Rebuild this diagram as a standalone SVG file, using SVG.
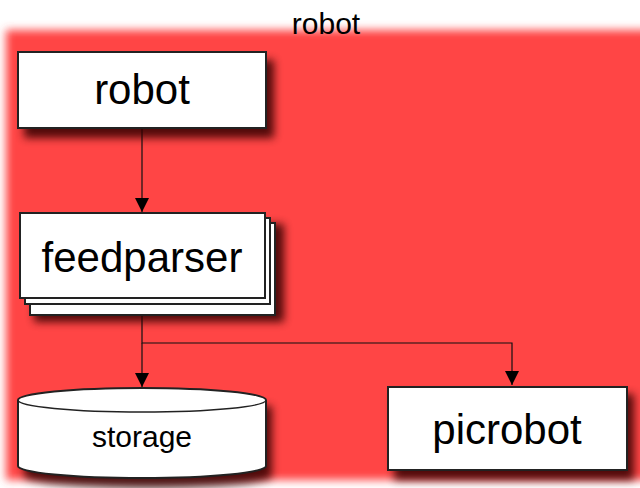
<svg xmlns="http://www.w3.org/2000/svg" width="640" height="488" viewBox="0 0 640 488">
<defs>
<filter id="bg" x="-5%" y="-5%" width="110%" height="110%"><feGaussianBlur stdDeviation="4"/></filter>
<filter id="sh" x="-20%" y="-20%" width="140%" height="160%"><feGaussianBlur stdDeviation="4"/></filter>
<marker id="ah" viewBox="0 0 10 10" refX="10" refY="5" markerWidth="14" markerHeight="14" markerUnits="userSpaceOnUse" orient="auto"><path d="M0,0 L10,5 L0,10 z" fill="#000"/></marker>
<style>
.box{fill:#fff;stroke:#222;stroke-width:2}
.shadow{fill:#300;opacity:0.85;filter:url(#sh)}
.big{font-family:"Liberation Sans",Arial,sans-serif;font-size:42px;fill:#000;text-anchor:middle}
.mid{font-family:"Liberation Sans",Arial,sans-serif;font-size:30px;fill:#000;text-anchor:middle}
.conn{fill:none;stroke:#111;stroke-width:1.2}
</style>
</defs>
<rect width="640" height="488" fill="#fff"/>
<rect x="6" y="30" width="650" height="450" fill="#ff4444" filter="url(#bg)"/>
<text x="326" y="34" class="mid" font-size="29">robot</text>
<g id="connectors">
<line class="conn" x1="142" y1="129" x2="142" y2="212" marker-end="url(#ah)"/>
<polyline class="conn" points="142,309 142,343 512,343 512,385" marker-end="url(#ah)"/>
<line class="conn" x1="142" y1="343" x2="142" y2="387" marker-end="url(#ah)"/>
</g>
<g id="node-robot">
<rect class="shadow" x="24" y="60" width="250" height="78"/>
<rect class="box" x="18" y="52" width="248" height="76"/>
<text class="big" x="142" y="104">robot</text>
</g>
<g id="node-feedparser">
<rect class="shadow" x="34" y="224" width="250" height="98"/>
<rect class="box" x="30" y="223" width="245" height="92"/>
<rect class="box" x="25" y="218" width="245" height="86"/>
<rect class="box" x="20" y="213" width="245" height="85"/>
<text class="big" x="142" y="272">feedparser</text>
</g>
<g id="node-storage">
<path class="shadow" d="M24,406 L24,476 A124,12 0 0 0 272,476 L272,406 Z"/>
<path class="box" d="M18,400 L18,466 A124,12 0 0 0 266,466 L266,400 A124,12 0 0 0 18,400 Z"/>
<path fill="none" stroke="#222" stroke-width="1.5" d="M18,400 A124,12 0 0 0 266,400"/>
<text class="mid" x="142" y="447">storage</text>
</g>
<g id="node-picrobot">
<rect class="shadow" x="394" y="394" width="240" height="86"/>
<rect class="box" x="388" y="387" width="239" height="83"/>
<text class="big" x="507" y="444">picrobot</text>
</g>
</svg>
